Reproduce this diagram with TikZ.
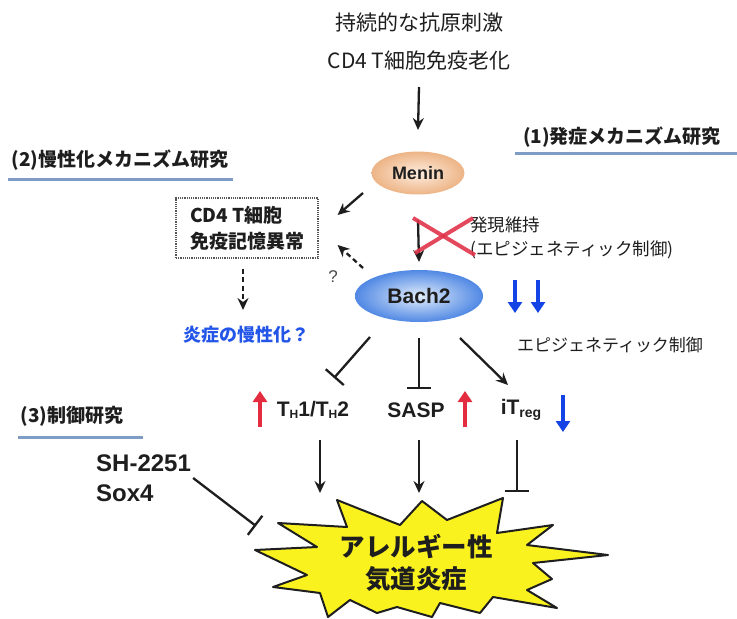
\documentclass[tikz,border=0pt]{standalone}
\usepackage{fontspec}
\setmainfont{Liberation Sans}
\newfontfamily\jp{Noto Sans CJK JP}
\usetikzlibrary{shapes.geometric,arrows.meta}
\definecolor{ink}{HTML}{1E1E1E}
\definecolor{uline}{HTML}{7F9CC4}
\definecolor{xred}{HTML}{E0344A}
\definecolor{upred}{HTML}{E42C40}
\definecolor{dnblue}{HTML}{1444E6}
\definecolor{chblue}{HTML}{2255E8}
\definecolor{burstyel}{HTML}{FAF21E}
\definecolor{meninin}{HTML}{FDEDDF}
\definecolor{meninout}{HTML}{EDB486}
\definecolor{bachin}{HTML}{E2EDFB}
\definecolor{bachout}{HTML}{5088E4}
\begin{document}
\begin{tikzpicture}[x=1pt,y=-1pt,
  every node/.style={inner sep=0pt, text=ink},
  arr/.style={draw=ink, line width=2.3pt, -{Stealth[length=12pt,width=11pt,inset=4pt]}},
  inh/.style={draw=ink, line width=2.3pt, -{Bar[width=24pt,line width=2.3pt]}},
  dsh/.style={dash pattern=on 5pt off 3.5pt},
  uln/.style={draw=uline, line width=3pt},
  uparr/.style={draw=upred, line width=4pt, -{Triangle[length=11pt,width=14pt]}},
  dnarr/.style={draw=dnblue, line width=4pt, -{Triangle[length=11pt,width=14pt]}},
  heading/.style={font=\jp\bfseries\fontsize{19}{19}\selectfont},
  rowlab/.style={font=\bfseries\fontsize{21}{21}\selectfont},
  blob/.style={ellipse, inner sep=0pt, shading=radial}
]
\useasboundingbox (0,0) rectangle (737,619);

% top texts
\node[font=\jp\fontsize{21}{21}\selectfont] (t1) at (419,23) {持続的な抗原刺激};
\node[font=\jp\fontsize{21}{21}\selectfont] (t2) at (419,61) {CD4 T細胞免疫老化};

% headings and underlines
\node[heading] (h1) at (622,137) {(1)発症メカニズム研究};
\draw[uln] (515,153) -- (737,153);
\node[heading] (h2) at (120,160) {(2)慢性化メカニズム研究};
\draw[uln] (8,179) -- (233,179);
\node[heading] (h3) at (72,416) {(3)制御研究};
\draw[uln] (18,437) -- (143,437);

% Menin and Bach2
\node[blob, minimum width=93pt, minimum height=43pt, inner color=meninin, outer color=meninout,
      font=\bfseries\fontsize{18}{18}\selectfont] (menin) at (418,173) {Menin};
\node[blob, minimum width=128pt, minimum height=52pt, inner color=bachin, outer color=bachout,
      font=\bfseries\fontsize{21}{21}\selectfont] (bach2) at (419,296) {Bach2};

% CD4 box
\node[draw=ink!75, densely dotted, line width=1.2pt, minimum width=142pt, minimum height=60pt,
      align=left, font=\jp\bfseries\fontsize{19}{26}\selectfont] (cd4) at (247,228) {CD4 T細胞\\免疫記憶異常};

\node[font=\fontsize{17}{17}\selectfont, text=ink!80] (q) at (333,277) {?};
\node[font=\jp\bfseries\fontsize{18}{18}\selectfont, text=chblue] (chron) at (246,335) {炎症の慢性化？};

% epigenetics texts
\node[anchor=west, align=left, font=\jp\fontsize{17.5}{24}\selectfont] (epi1) at (470,238) {発現維持\\(エピジェネティック制御)};
\node[font=\jp\fontsize{17}{17}\selectfont] (epi2) at (610,345) {エピジェネティック制御};

% row labels
\node[rowlab] (th) at (313,410) {T\raisebox{-2pt}{\fontsize{12}{12}\selectfont H}1/T\raisebox{-2pt}{\fontsize{12}{12}\selectfont H}2};
\node[rowlab] (sasp) at (416,410) {SASP};
\node[rowlab] (itreg) at (521,410) {iT\raisebox{-3pt}{\fontsize{14}{14}\selectfont reg}};

% SH-2251 / Sox4
\node[anchor=west, font=\bfseries\fontsize{24}{24}\selectfont] (sh) at (96,463) {SH-2251};
\node[anchor=west, font=\bfseries\fontsize{24}{24}\selectfont] (sox) at (96,493) {Sox4};

% starburst
\filldraw[fill=burstyel, draw=ink, line width=2pt, line join=round]
  (337,500) -- (400,525) -- (422,501) -- (447,520) -- (503,498) -- (497,533) -- (553,525)
  -- (527,545) -- (608,555) -- (533,563) -- (552,579) -- (527,590) -- (557,608) -- (493,597)
  -- (480,613) -- (440,603) -- (432,617) -- (397,607) -- (377,613) -- (350,600) -- (328,617)
  -- (320,593) -- (273,587) -- (307,575) -- (255,550) -- (317,547) -- (278,523) -- (347,527) -- cycle;
\node[align=center, font=\jp\bfseries\fontsize{25.5}{32}\selectfont] (burst) at (416,563) {アレルギー性\\気道炎症};

% connectors
\draw[arr] ([yshift=-26pt]t2.center) -- ([yshift=43pt]menin.center);
\draw[arr] ([shift={(-55,20)}]menin.center) -- ([shift={(19,-13)}]cd4.east);
\draw[arr, dsh] ([shift={(-56,-28)}]bach2.center) -- ([shift={(19,17)}]cd4.east);
\draw[arr, dsh] ([shift={(-4,10)}]cd4.south) -- ([shift={(-3,-25)}]chron.center);
\draw[arr] ([shift={(0,47)}]menin.center) -- ([shift={(0,-34)}]bach2.center);
\draw[xred, line width=4pt, opacity=0.9] (413,218) -- (475,255);
\draw[xred, line width=4pt, opacity=0.9] (415,253) -- (473,218);

\draw[inh] ([shift={(-49,41)}]bach2.center) -- ([shift={(21,-32)}]th.center);
\draw[inh] ([shift={(0,42)}]bach2.center) -- ([shift={(3,-21)}]sasp.center);
\draw[arr] ([shift={(41,42)}]bach2.center) -- ([shift={(-13,-25)}]itreg.center);

\draw[arr] ([shift={(7,30)}]th.center) -- ([shift={(-96,-70)}]burst.center);
\draw[arr] ([shift={(3,30)}]sasp.center) -- ([shift={(3,-70)}]burst.center);
\draw[inh] ([shift={(-4,30)}]itreg.center) -- ([shift={(101,-71)}]burst.center);
\draw[inh] ([shift={(2,15)}]sh.east) -- ([shift={(-160,-37)}]burst.center);

% up / down markers
\draw[uparr] (260,427) -- (260,391);
\draw[uparr] (465,427) -- (465,391);
\draw[dnarr] (563,395) -- (563,432);
\draw[dnarr] (515,280) -- (515,313);
\draw[dnarr] (538,280) -- (538,313);
\end{tikzpicture}
\end{document}
